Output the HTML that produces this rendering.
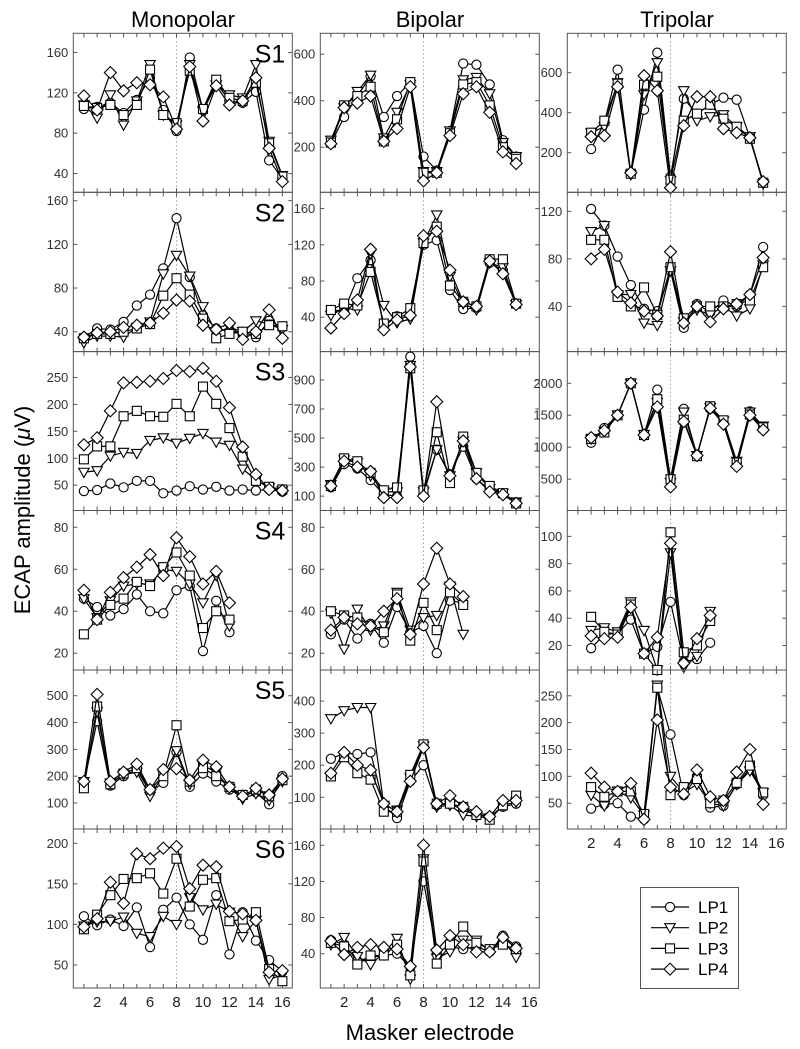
<!DOCTYPE html>
<html><head><meta charset="utf-8"><style>
html,body{margin:0;padding:0;background:#fff;}
svg{display:block;font-family:"Liberation Sans",sans-serif;}
</style></head><body>
<svg id="chart" width="800" height="1049" viewBox="0 0 800 1049" xmlns="http://www.w3.org/2000/svg">
<text x="183" y="27" font-size="22" text-anchor="middle">Monopolar</text>
<text x="430" y="27" font-size="22" text-anchor="middle">Bipolar</text>
<text x="677" y="27" font-size="22" text-anchor="middle">Tripolar</text>
<text transform="translate(30,510) rotate(-90)" font-size="22" text-anchor="middle">ECAP amplitude (<tspan font-style="italic">μ</tspan>V)</text>
<text x="430" y="1040" font-size="22" text-anchor="middle">Masker electrode</text>
<g id="panels"></g>
<g>
<rect x="640.5" y="887.5" width="98" height="101" fill="#fff" stroke="#555" stroke-width="1"/>
<g id="legend-items"></g>
</g>
</svg>
<script>
// Categories: masker electrode numbers (start index per panel)
const seriesNames = ["LP1","LP2","LP3","LP4"];
const xTickLabels = [2,4,6,8,10,12,14,16];
// Monopolar
const monoS1 = [[104,106,110,100,113,135,103,82,155,103,130,112,110,121,53,35],[108,95,118,88,112,148,98,88,148,102,128,118,115,148,72,38],[107,105,108,98,108,143,98,90,142,104,133,115,112,130,70,37],[117,103,140,122,130,128,116,84,146,92,127,108,112,135,65,32]];
const monoS2 = [[35,43,42,49,64,74,98,144,90,55,43,40,40,35,50,44],[30,36,36,35,44,49,93,110,91,63,39,44,40,50,47,42],[34,38,38,40,43,47,73,89,74,52,34,38,40,38,46,45],[35,39,40,44,46,48,57,69,68,46,42,48,33,40,60,34]];
const monoS3 = [[39,41,53,46,58,58,35,40,48,42,47,40,42,40,42,38],[74,77,104,111,109,133,138,128,137,146,130,124,80,60,45,40],[98,122,122,178,188,178,177,201,178,233,201,156,103,58,47,42],[125,138,188,240,241,243,248,263,261,267,243,194,121,70,42,40]];
const monoS4 = [[46,42,38,41,48,40,39,50,52,21,45,30],[46,37,45,52,53,53,60,59,53,44,57,33],[29,36,43,46,54,52,61,68,57,32,40,36],[50,36,49,56,61,67,57,75,66,53,59,44]];
const monoS5 = [[175,405,165,200,225,140,175,290,160,210,180,150,130,140,95,200],[180,440,175,205,215,125,205,295,170,240,215,155,115,135,110,180],[155,460,170,210,230,150,200,390,180,230,200,160,130,150,125,185],[180,505,180,215,245,150,225,228,185,260,235,160,125,155,130,190]];
const monoS6 = [[110,99,106,98,121,72,118,133,100,81,136,63,115,80,56,42],[98,103,104,109,89,85,110,100,133,118,125,115,85,105,32,38],[94,112,136,156,157,163,138,181,122,155,157,104,106,115,45,30],[97,107,152,126,187,181,194,196,144,173,171,116,113,105,41,43]];
// Bipolar
const biS1 = [[215,330,420,505,330,420,480,160,100,270,560,555,470,230,160],[230,370,440,510,240,350,470,95,95,270,490,500,430,220,160],[220,380,420,460,225,320,480,90,90,260,470,480,380,200,150],[215,370,390,420,225,280,460,55,90,250,430,460,350,180,130]];
const biS2 = [[48,47,83,103,30,41,42,120,125,70,49,50,100,92,55],[42,50,48,110,53,34,38,122,153,85,55,48,100,95,54],[48,55,53,90,33,40,50,122,140,75,57,52,104,104,55],[28,44,59,115,26,37,42,130,135,92,57,52,102,88,54]];
const biS3 = [[160,320,290,210,110,100,1060,110,420,250,440,220,140,120,50],[180,350,330,240,130,130,1000,130,420,240,480,260,150,120,60],[170,360,340,260,140,160,980,140,540,190,510,260,170,120,50],[170,340,300,270,90,90,990,100,750,240,480,220,130,110,50]];
const biS4 = [[29,36,27,34,25,42,30,33,20,45,44],[39,22,41,31,33,49,31,37,38,52,29],[40,38,37,33,30,48,26,44,31,49,43],[31,37,34,33,40,46,29,53,70,53,47]];
const biS5 = [[220,237,235,240,75,35,150,200,75,80,60,45,40,70,80],[345,370,380,380,75,60,160,260,70,75,45,40,35,75,85],[165,225,175,155,55,55,170,265,80,80,70,45,30,75,105],[175,240,200,185,80,55,150,255,80,105,70,55,40,90,90]];
const biS6 = [[55,50,32,36,38,40,25,120,42,48,45,48,42,60,48],[50,58,37,28,41,57,12,145,35,42,55,55,43,55,36],[52,48,28,38,38,50,16,142,29,50,70,52,45,50,45],[54,39,47,50,47,45,26,160,44,60,50,42,42,58,46]];
// Tripolar
const triS1 = [[218,350,615,95,415,700,80,470,395,440,475,465,275,55],[300,330,550,90,490,650,60,510,360,380,390,330,280,45],[300,360,545,95,540,580,65,360,395,440,370,330,270,50],[280,285,530,100,585,510,25,335,480,480,320,300,275,55]];
const triS2 = [[122,108,82,58,38,36,70,22,42,35,45,40,50,90],[103,108,50,50,26,24,70,27,37,33,40,32,38,75],[96,96,48,40,56,33,73,30,40,40,40,42,45,73],[80,88,52,43,36,32,86,26,40,27,38,42,50,81]];
const triS3 = [[1070,1300,1500,2000,1200,1900,500,1600,880,1600,1400,750,1560,1310],[1130,1250,1500,2000,1200,1700,450,1550,870,1620,1410,780,1550,1330],[1130,1230,1500,2000,1190,1750,500,1430,860,1640,1420,760,1510,1310],[1150,1260,1500,2000,1190,1630,380,1400,870,1610,1360,700,1500,1270]];
const triS4 = [[18,28,29,39,14,19,52,8,10,22],[31,33,30,52,31,2,88,4,12,45],[41,30,28,50,14,2,103,15,20,38],[27,25,26,48,14,26,95,7,25,42]];
const triS5 = [[40,48,50,25,20,265,178,65,100,42,45,85,115,65],[65,45,72,60,28,270,100,70,85,50,45,85,110,70],[80,62,72,72,30,265,65,80,95,50,55,88,120,70],[106,80,72,87,20,205,80,67,112,62,55,108,150,48]];
// Y tick labels per panel
const ticksMono = [[40,80,120,160],[40,80,120,160],[50,100,150,200,250],[20,40,60,80],[100,200,300,400,500],[50,100,150,200]];
const ticksBi = [[200,400,600],[40,80,120,160],[100,300,500,700,900],[20,40,60,80],[100,200,300,400],[40,80,120,160]];
const ticksTri = [[200,400,600],[40,80,120],[500,1000,1500,2000],[20,40,60,80,100],[50,100,150,200,250]];

const NS="http://www.w3.org/2000/svg";
const colX=[73.3,320.3,567.3], PW=219;
const rowY=[33.3,192.3,351.6,510.5,670,829,988];
const XD=[0.2,16.75];
function mk(tag,attrs,parent){const e=document.createElementNS(NS,tag);for(const k in attrs)e.setAttribute(k,attrs[k]);parent.appendChild(e);return e;}
function marker(g,type,x,y){
  let e;
  if(type===0){e=mk('circle',{cx:x,cy:y,r:4.6},g);}
  else if(type===1){e=mk('polygon',{points:`${x-5.2},${y-4} ${x+5.2},${y-4} ${x},${y+5.2}`},g);}
  else if(type===2){e=mk('rect',{x:x-4.5,y:y-4.5,width:9,height:9},g);}
  else {e=mk('polygon',{points:`${x},${y-6} ${x+6},${y} ${x},${y+6} ${x-6},${y}`},g);}
  e.setAttribute('fill','#fff');e.setAttribute('stroke','#000');e.setAttribute('stroke-width','1.1');
  return e;
}
const panels=[
 {c:0,r:0,d:[21.4,179],t:ticksMono[0],s:monoS1,x0:1,lab:"S1"},
 {c:0,r:1,d:[21.8,167.7],t:ticksMono[1],s:monoS2,x0:1,lab:"S2"},
 {c:0,r:2,d:[3,298],t:ticksMono[2],s:monoS3,x0:1,lab:"S3"},
 {c:0,r:3,d:[12,88],t:ticksMono[3],s:monoS4,x0:1,lab:"S4"},
 {c:0,r:4,d:[3,596],t:ticksMono[4],s:monoS5,x0:1,lab:"S5"},
 {c:0,r:5,d:[21.6,217.6],t:ticksMono[5],s:monoS6,x0:1,lab:"S6"},
 {c:1,r:0,d:[6,690],t:ticksBi[0],s:biS1,x0:1},
 {c:1,r:1,d:[2,178],t:ticksBi[1],s:biS2,x0:1},
 {c:1,r:2,d:[1,1095],t:ticksBi[2],s:biS3,x0:1},
 {c:1,r:3,d:[12,88],t:ticksBi[3],s:biS4,x0:1},
 {c:1,r:4,d:[1,497],t:ticksBi[4],s:biS5,x0:1},
 {c:1,r:5,d:[2,178],t:ticksBi[5],s:biS6,x0:1},
 {c:2,r:0,d:[2,797],t:ticksTri[0],s:triS1,x0:2},
 {c:2,r:1,d:[2,136],t:ticksTri[1],s:triS2,x0:2},
 {c:2,r:2,d:[10,2495],t:ticksTri[2],s:triS3,x0:2},
 {c:2,r:3,d:[2,119],t:ticksTri[3],s:triS4,x0:2},
 {c:2,r:4,d:[2,298],t:ticksTri[4],s:triS5,x0:2}
];
const colNames=["monopolar","bipolar","tripolar"];
const root=document.getElementById('panels');
panels.forEach(p=>{
  const L=colX[p.c],T=rowY[p.r],B=rowY[p.r+1],R=L+PW;
  const xs=v=>L+(v-XD[0])/(XD[1]-XD[0])*PW;
  const ys=v=>B-(v-p.d[0])/(p.d[1]-p.d[0])*(B-T);
  const g=mk('g',{},root);
  
  
  mk('line',{x1:xs(8),x2:xs(8),y1:T,y2:B,stroke:'#888','stroke-width':0.8,'stroke-dasharray':'1.5,2.5'},g);
  for(let i=1;i<=16;i++){
    const x=xs(i);
    mk('line',{x1:x,x2:x,y1:T,y2:T+4,stroke:'#555','stroke-width':1},g);
    mk('line',{x1:x,x2:x,y1:B,y2:B-4,stroke:'#555','stroke-width':1},g);
  }
  p.t.forEach(v=>{
    const y=ys(v);
    mk('line',{x1:L,x2:L+4,y1:y,y2:y,stroke:'#555','stroke-width':1},g);
    mk('line',{x1:R,x2:R-4,y1:y,y2:y,stroke:'#555','stroke-width':1},g);
    const t=mk('text',{x:L-5,y:y+4.5,'font-size':13,'text-anchor':'end',fill:'#333'},g);
    
    
    t.textContent=v;
  });
  mk('rect',{x:L,y:T,width:PW,height:B-T,fill:'none',stroke:'#555','stroke-width':1},g);
  p.s.forEach((arr,si)=>{
    const sg=mk('g',{},g);
    
    
    const pts=arr.map((v,i)=>`${xs(p.x0+i)},${ys(v)}`).join(' ');
    mk('polyline',{points:pts,fill:'none',stroke:'#000','stroke-width':1.2},sg);
    arr.forEach((v,i)=>{const m=marker(sg,si,xs(p.x0+i),ys(v));
      
      });
  });
  if(p.lab){
    const t=mk('text',{x:R-7,y:T+29,'font-size':25,'text-anchor':'end'},g);
    
    
    t.textContent=p.lab;
  }
});
// x tick labels
[[0,988+19],[1,988+19],[2,829+19]].forEach(([c,y])=>{
  const L=colX[c];
  xTickLabels.forEach(v=>{
    const t=mk('text',{x:L+(v-XD[0])/(XD[1]-XD[0])*PW,y:y,'font-size':15,'text-anchor':'middle',fill:'#222'},root);
    
    
    t.textContent=v;
  });
});
// legend
const lg=document.getElementById('legend-items');
seriesNames.forEach((n,i)=>{
  const y=907+i*20.7;
  const g=mk('g',{},lg);
  
  
  mk('line',{x1:651,x2:689,y1:y,y2:y,stroke:'#000','stroke-width':1.2},g);
  marker(g,i,670,y);
  const t=mk('text',{x:698,y:y+6,'font-size':17},g);
  t.textContent=n;
});
</script>
</body></html>
